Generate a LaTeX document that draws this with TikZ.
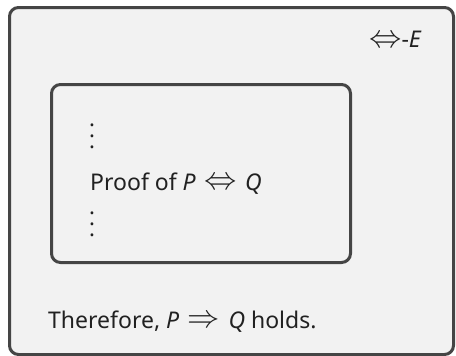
\documentclass[tikz,border=0pt]{standalone}
\usepackage{graphicx}
\usepackage{fontspec}
\setmainfont{Noto Sans}
\newcommand{\myiff}{\raisebox{0.5pt}{\scalebox{1.3}{$\Leftrightarrow$}}}
\newcommand{\myimp}{\raisebox{0.5pt}{\scalebox{1.3}{$\Rightarrow$}}}
\begin{document}
\begin{tikzpicture}[x=1pt,y=-1pt,
  box/.style={draw=black!73, line width=3pt, rounded corners=9pt, fill=black!5},
  lbl/.style={inner sep=0pt, anchor=base west, text=black!87, font=\fontsize{23}{27}\selectfont},
  dot/.style={inner sep=0pt, anchor=base, text=black!87, font=\fontsize{22}{26}\selectfont}]
\useasboundingbox[fill=white] (0,0) rectangle (456,356);
\node[box, minimum width=444pt, minimum height=347pt, anchor=north west] (outer) at (8,6) {};
\node[box, minimum width=299pt, minimum height=178pt, anchor=north west] (inner) at (50,83) {};
\node[lbl] (rule) at (369,48) {\myiff-\textit{E}};
\node[dot] (dt1) at (92,126.5) {.};
\node[dot] (dt2) at (92,137.5) {.};
\node[dot] (dt3) at (92,148.5) {.};
\node[lbl] (proof) at (90,190) {Proof of \textit{P}\hspace{8.5pt}\myiff\hspace{8.5pt}\textit{Q}};
\node[dot] (db1) at (92,214.5) {.};
\node[dot] (db2) at (92,225.5) {.};
\node[dot] (db3) at (92,236.5) {.};
\node[lbl] (concl) at (48,328) {Therefore, \textit{P}\hspace{8.5pt}\myimp\hspace{8.5pt}\textit{Q} holds.};
\end{tikzpicture}
\end{document}
